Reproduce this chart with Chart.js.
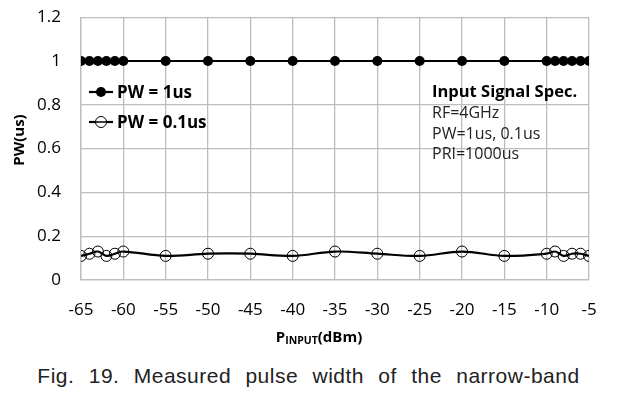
<!DOCTYPE html>
<html>
<head>
<meta charset="utf-8">
<script src="https://cdn.jsdelivr.net/npm/chart.js@4.4.1/dist/chart.umd.min.js"></script>
<style>
  html, body { margin: 0; padding: 0; background: #fff; }
  #wrap { position: relative; width: 617px; height: 400px; overflow: hidden; }
  #box { position: absolute; left: 0; top: -13px; width: 617px; height: 363px; }
  #cap { position: absolute; left: 0; top: 364px; width: 617px; text-align: center;
         font-family: "Liberation Sans", sans-serif; font-size: 21px; color: #222;
         letter-spacing: 0.5px; word-spacing: 8px; }
</style>
</head>
<body>
<div id="wrap">
  <div id="box"><canvas id="chart"></canvas></div>
  <div id="cap">Fig. 19. Measured pulse width of the narrow-band</div>
</div>
<script>
// P_INPUT (dBm)
const pInput = [-65, -64, -63, -62, -61, -60, -55, -50, -45, -40, -35, -30, -25, -20, -15, -10, -9, -8, -7, -6, -5];
// PW (us)
const pw1us  = [1, 1, 1, 1, 1, 1, 1, 1, 1, 1, 1, 1, 1, 1, 1, 1, 1, 1, 1, 1, 1];
const pw01us = [0.11, 0.12, 0.13, 0.11, 0.12, 0.13, 0.11, 0.12, 0.12, 0.11, 0.13, 0.12, 0.11, 0.13, 0.11, 0.12, 0.13, 0.11, 0.12, 0.12, 0.11];
const seriesNames = ['PW = 1us', 'PW = 0.1us'];
const specLines = ['Input Signal Spec.', 'RF=4GHz', 'PW=1us, 0.1us', 'PRI=1000us'];

const FONT = '"Open Sans", "Noto Sans", sans-serif';

function pts(ys) { return pInput.map((x, i) => ({ x: x, y: ys[i] })); }

// legend, spec text and axis titles drawn on the canvas (canvas sits 13px higher than the page)
const overlay = {
  id: 'overlay',
  afterDraw(chart) {
    const c = chart.ctx;
    const dy = 13;
    c.save();
    c.translate(0, dy);
    // legend
    const rows = [{ y: 92, fill: '#000', r: 5 }, { y: 122, fill: null, r: 5.5 }];
    rows.forEach((row, i) => {
      c.strokeStyle = '#000'; c.lineWidth = 2.2;
      c.beginPath(); c.moveTo(89, row.y); c.lineTo(113, row.y); c.stroke();
      c.beginPath(); c.arc(101, row.y, row.r, 0, Math.PI * 2);
      if (row.fill) { c.fillStyle = row.fill; c.fill(); }
      else { c.fillStyle = '#fff'; c.fill(); c.lineWidth = 1; c.stroke(); c.beginPath(); c.moveTo(95, row.y); c.lineTo(107, row.y); c.lineWidth = 1.5; c.stroke(); }
      c.fillStyle = '#000';
      c.font = 'bold 17px ' + FONT;
      c.textBaseline = 'middle'; c.textAlign = 'left';
      c.fillText(seriesNames[i], 117, row.y + 1);
    });
    // spec block
    c.textBaseline = 'middle';
    c.font = 'bold 16.5px ' + FONT;
    c.fillText(specLines[0], 432, 92);
    c.font = '16px ' + FONT;
    c.fillStyle = '#222';
    [113, 134, 154].forEach((y, i) => c.fillText(specLines[i + 1], 432, y));
    // x title with subscript
    c.fillStyle = '#000';
    c.font = 'bold 15px ' + FONT;
    const a = 'P', sub = 'INPUT', b = '(dBm)';
    const wa = c.measureText(a).width, wb = c.measureText(b).width;
    c.font = 'bold 10.5px ' + FONT;
    const ws = c.measureText(sub).width;
    let x = 319 - (wa + ws + wb) / 2;
    c.font = 'bold 15px ' + FONT;
    c.fillText(a, x, 338); x += wa;
    c.font = 'bold 10.5px ' + FONT;
    c.fillText(sub, x, 341); x += ws;
    c.font = 'bold 15px ' + FONT;
    c.fillText(b, x, 338);
    // y title
    c.translate(20, 140);
    c.rotate(-Math.PI / 2);
    c.textAlign = 'center';
    c.font = 'bold 15px ' + FONT;
    c.fillText('PW(us)', 0, 0);
    c.restore();
  }
};

new Chart(document.getElementById('chart'), {
  type: 'line',
  data: {
    datasets: [
      {
        label: seriesNames[0], data: pts(pw1us),
        borderColor: '#000', borderWidth: 2.2, backgroundColor: '#000',
        pointRadius: 5, pointBackgroundColor: '#000', pointBorderColor: '#000', pointBorderWidth: 0
      },
      {
        label: seriesNames[1], data: pts(pw01us),
        borderColor: '#000', borderWidth: 2.2, tension: 0.35,
        pointRadius: 5.5, pointBackgroundColor: 'rgba(0,0,0,0)', pointBorderColor: '#000', pointBorderWidth: 1
      }
    ]
  },
  options: {
    responsive: true, maintainAspectRatio: false, animation: false,
    layout: { padding: { top: 2, right: 28, left: 0, bottom: 0 } },
    plugins: { legend: { display: false }, tooltip: { enabled: false } },
    scales: {
      x: {
        type: 'linear', min: -65, max: -5,
        afterFit: s => { s.height = 70; },
        ticks: { stepSize: 5, color: '#000', font: { family: FONT, size: 17 }, padding: 20, maxRotation: 0 },
        grid: { color: '#bdbdbd', lineWidth: 1.3, drawTicks: false },
        border: { color: '#bdbdbd', width: 1.3 }
      },
      y: {
        min: 0, max: 1.2,
        afterFit: s => { s.width = 81; },
        ticks: { stepSize: 0.2, color: '#000', font: { family: FONT, size: 17 }, padding: 20,
                 callback: v => String(Math.round(v * 10) / 10) },
        grid: { color: '#bdbdbd', lineWidth: 1.3, drawTicks: false },
        border: { color: '#bdbdbd', width: 1.3 }
      }
    }
  },
  plugins: [overlay]
});
</script>
</body>
</html>
